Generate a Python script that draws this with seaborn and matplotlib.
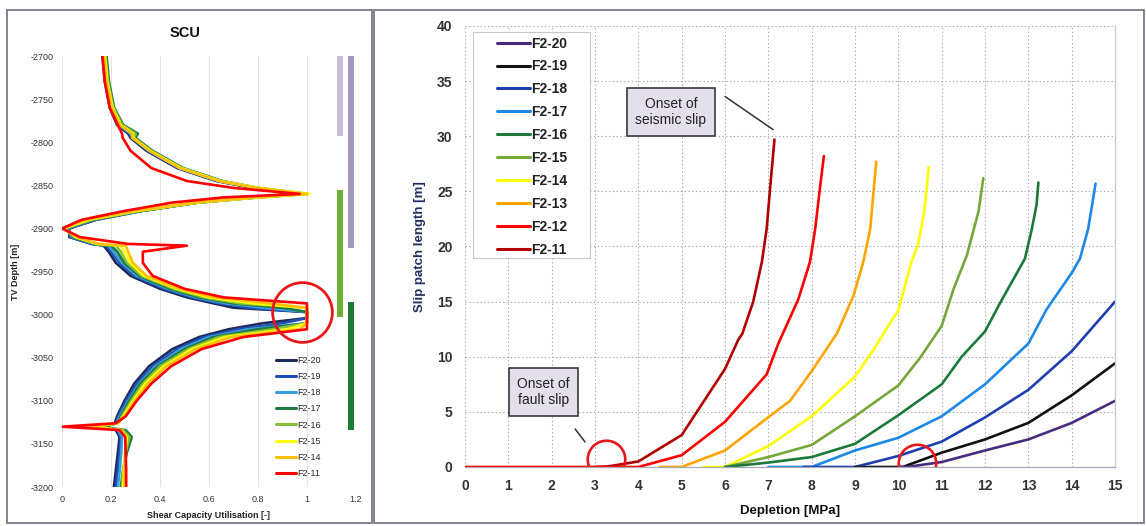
import matplotlib
matplotlib.use("Agg")
import matplotlib.pyplot as plt
import seaborn as sns
from matplotlib.lines import Line2D
from matplotlib.patches import Rectangle

sns.set_style("white")
plt.rcParams["font.family"] = ["Liberation Sans", "DejaVu Sans"]
plt.rcParams["axes.unicode_minus"] = False

# ---------------- Shear capacity utilisation profiles ----------------
DEPTH = [-2700, -2730, -2760, -2780, -2790, -2795, -2810, -2830, -2845, -2853,
         -2860, -2864, -2870, -2880, -2890, -2900, -2910, -2918, -2920, -2927,
         -2940, -2955, -2970, -2980, -2987, -2992, -2997, -3004, -3010, -3017,
         -3026, -3040, -3060, -3080, -3100, -3118, -3126, -3130, -3134, -3142,
         -3160, -3180, -3200]

SCU_F2_20 = [0.165, 0.175, 0.195, 0.225, 0.27, 0.28, 0.345, 0.47, 0.63, 0.78,
             0.98, 0.78, 0.55, 0.32, 0.14, 0.03, 0.03, 0.12, 0.17, 0.19,
             0.22, 0.28, 0.40, 0.51, 0.62, 0.70, 1.0, 1.0, 0.82, 0.68,
             0.56, 0.45, 0.355, 0.295, 0.255, 0.225, 0.215, 0.18, 0.22, 0.235,
             0.228, 0.22, 0.212]
SCU_F2_19 = [0.168, 0.178, 0.198, 0.23, 0.275, 0.285, 0.35, 0.475, 0.635, 0.785,
             0.985, 0.79, 0.55, 0.32, 0.135, 0.025, 0.035, 0.125, 0.18, 0.20,
             0.235, 0.295, 0.415, 0.53, 0.645, 0.76, 1.0, 1.0, 0.9, 0.72,
             0.58, 0.47, 0.37, 0.305, 0.262, 0.23, 0.22, 0.17, 0.225, 0.24,
             0.235, 0.228, 0.22]
SCU_F2_18 = [0.17, 0.18, 0.2, 0.235, 0.28, 0.29, 0.355, 0.48, 0.64, 0.79,
             0.99, 0.79, 0.55, 0.315, 0.13, 0.02, 0.04, 0.13, 0.19, 0.21,
             0.245, 0.305, 0.43, 0.545, 0.67, 0.82, 1.0, 1.0, 1.0, 0.76,
             0.60, 0.485, 0.38, 0.315, 0.27, 0.235, 0.225, 0.16, 0.23, 0.245,
             0.242, 0.236, 0.228]
SCU_F2_17 = [0.182, 0.192, 0.213, 0.25, 0.31, 0.30, 0.37, 0.495, 0.655, 0.80,
             1.0, 0.80, 0.56, 0.315, 0.125, 0.015, 0.045, 0.135, 0.20, 0.225,
             0.255, 0.315, 0.44, 0.56, 0.70, 0.90, 1.0, 1.0, 1.0, 0.80,
             0.62, 0.50, 0.39, 0.32, 0.275, 0.24, 0.228, 0.15, 0.26, 0.285,
             0.265, 0.25, 0.24]
SCU_F2_16 = [0.178, 0.188, 0.21, 0.245, 0.30, 0.295, 0.365, 0.49, 0.65, 0.80,
             1.0, 0.80, 0.555, 0.31, 0.12, 0.012, 0.05, 0.14, 0.22, 0.24,
             0.265, 0.325, 0.455, 0.58, 0.73, 1.0, 1.0, 1.0, 1.0, 0.86,
             0.64, 0.515, 0.40, 0.33, 0.282, 0.245, 0.23, 0.14, 0.25, 0.275,
             0.26, 0.25, 0.245]
SCU_F2_15 = [0.175, 0.185, 0.206, 0.24, 0.29, 0.29, 0.36, 0.485, 0.645, 0.80,
             1.01, 0.80, 0.55, 0.30, 0.11, 0.01, 0.055, 0.145, 0.24, 0.255,
             0.28, 0.335, 0.47, 0.60, 0.78, 1.0, 1.0, 1.0, 1.0, 0.92,
             0.665, 0.53, 0.415, 0.34, 0.29, 0.25, 0.23, 0.12, 0.24, 0.265,
             0.258, 0.253, 0.25]
SCU_F2_14 = [0.172, 0.182, 0.203, 0.237, 0.285, 0.287, 0.357, 0.48, 0.64, 0.795,
             1.0, 0.79, 0.54, 0.29, 0.10, 0.005, 0.06, 0.15, 0.26, 0.27,
             0.29, 0.345, 0.48, 0.62, 0.85, 1.0, 1.0, 1.0, 1.0, 0.97,
             0.69, 0.545, 0.425, 0.35, 0.297, 0.255, 0.225, 0.10, 0.24, 0.26,
             0.258, 0.256, 0.255]
SCU_F2_11 = [0.165, 0.175, 0.195, 0.228, 0.245, 0.248, 0.28, 0.365, 0.51, 0.70,
             0.97, 0.66, 0.45, 0.25, 0.08, 0.0, 0.073, 0.27, 0.51, 0.33,
             0.33, 0.37, 0.50, 0.66, 1.0, 1.0, 1.0, 1.0, 1.0, 1.0,
             0.74, 0.57, 0.445, 0.365, 0.305, 0.26, 0.22, 0.0, 0.235, 0.258,
             0.26, 0.262, 0.262]

SCU_NAMES = ["F2-20", "F2-19", "F2-18", "F2-17", "F2-16", "F2-15", "F2-14", "F2-11"]
SCU_SERIES = [SCU_F2_20, SCU_F2_19, SCU_F2_18, SCU_F2_17,
              SCU_F2_16, SCU_F2_15, SCU_F2_14, SCU_F2_11]
SCU_COLORS = ["#1B2A59", "#1F4FB8", "#3A9DE0", "#1E7B3E",
              "#86BF3C", "#FFFF00", "#FFC000", "#FF0000"]

# Formation intervals shown as bars beside the profiles
BAR_X = [1.135, 1.18, 1.135, 1.18]
BAR_TOP = [-2700, -2700, -2855, -2985]
BAR_BOTTOM = [-2793, -2923, -3003, -3134]
BAR_COLORS = ["#C9BFD8", "#A597BE", "#6CB02F", "#1E7B34"]

# ---------------- Slip patch growth with depletion ----------------
DEPL_F2_20 = [10.0, 10.2, 11.0, 12.0, 13.0, 14.0, 15.0]
SLIP_F2_20 = [0.0, 0.0, 0.45, 1.5, 2.5, 4.0, 6.0]
DEPL_F2_19 = [9.0, 10.1, 11.0, 12.0, 13.0, 14.0, 15.0]
SLIP_F2_19 = [0.0, 0.0, 1.3, 2.5, 4.0, 6.5, 9.4]
DEPL_F2_18 = [7.8, 9.0, 10.0, 11.0, 12.0, 13.0, 14.0, 15.0]
SLIP_F2_18 = [0.0, 0.0, 1.0, 2.3, 4.5, 7.0, 10.5, 15.0]
DEPL_F2_17 = [7.0, 8.0, 9.0, 10.0, 11.0, 12.0, 13.0, 13.42, 14.0, 14.19, 14.38, 14.55]
SLIP_F2_17 = [0.0, 0.0, 1.5, 2.65, 4.6, 7.5, 11.2, 14.3, 17.6, 18.9, 21.6, 25.7]
DEPL_F2_16 = [6.0, 7.0, 8.0, 9.0, 10.0, 11.0, 11.46, 12.0, 12.35, 12.65, 12.92, 13.08, 13.19, 13.23]
SLIP_F2_16 = [0.0, 0.4, 0.9, 2.1, 4.7, 7.5, 10.0, 12.3, 14.9, 17.0, 18.9, 21.6, 23.8, 25.8]
DEPL_F2_15 = [6.0, 7.0, 8.0, 9.0, 10.0, 10.5, 11.0, 11.27, 11.58, 11.85, 11.96]
SLIP_F2_15 = [0.0, 0.9, 2.0, 4.6, 7.4, 9.9, 12.8, 16.1, 19.2, 23.2, 26.2]
DEPL_F2_14 = [5.5, 6.0, 7.0, 8.0, 9.0, 9.42, 9.8, 10.0, 10.3, 10.45, 10.6, 10.7]
SLIP_F2_14 = [0.0, 0.0, 1.9, 4.6, 8.2, 10.6, 13.0, 14.2, 18.6, 20.1, 23.2, 27.2]
DEPL_F2_13 = [4.5, 5.0, 6.0, 6.96, 7.5, 8.0, 8.58, 8.96, 9.19, 9.35, 9.42, 9.49]
SLIP_F2_13 = [0.0, 0.0, 1.5, 4.4, 6.0, 8.7, 12.1, 15.5, 18.6, 21.6, 24.7, 27.7]
DEPL_F2_12 = [0.0, 4.0, 5.0, 6.0, 6.96, 7.23, 7.69, 7.96, 8.08, 8.19, 8.28]
SLIP_F2_12 = [0.0, 0.0, 1.07, 4.1, 8.4, 11.2, 15.2, 18.6, 21.6, 25.3, 28.2]
DEPL_F2_11 = [3.0, 3.3, 4.0, 5.0, 6.0, 6.3, 6.4, 6.65, 6.85, 6.96, 7.04, 7.14]
SLIP_F2_11 = [0.0, 0.05, 0.5, 2.9, 8.9, 11.5, 12.1, 15.0, 18.6, 21.6, 25.3, 29.7]

SLIP_NAMES = ["F2-20", "F2-19", "F2-18", "F2-17", "F2-16",
              "F2-15", "F2-14", "F2-13", "F2-12", "F2-11"]
SLIP_DEPL = [DEPL_F2_20, DEPL_F2_19, DEPL_F2_18, DEPL_F2_17, DEPL_F2_16,
             DEPL_F2_15, DEPL_F2_14, DEPL_F2_13, DEPL_F2_12, DEPL_F2_11]
SLIP_LEN = [SLIP_F2_20, SLIP_F2_19, SLIP_F2_18, SLIP_F2_17, SLIP_F2_16,
            SLIP_F2_15, SLIP_F2_14, SLIP_F2_13, SLIP_F2_12, SLIP_F2_11]
SLIP_COLORS = ["#4B2B7F", "#111111", "#1F3FB0", "#1E88E5", "#1B7A3A",
               "#74A83A", "#FFFF00", "#FFA500", "#FF0000", "#B00000"]

# Highlighted points of interest
ONSET_DEPL = [3.25, 10.42]
ONSET_SLIP = [0.7, 0.4]
SCU_MARK_X = [0.98]
SCU_MARK_DEPTH = [-2997]

fig = plt.figure(figsize=(11.46, 5.26), dpi=100)

# panel frames
for x0, w in [(0.0061, 0.3185), (0.3264, 0.6719)]:
    fig.patches.append(Rectangle((x0, 0.0057), w, 0.9753, transform=fig.transFigure,
                                 fill=False, edgecolor="#7A7A8C", lw=1.3))

# ---------------- left panel ----------------
ax1 = fig.add_axes([0.0541, 0.0741, 0.2565, 0.8194])
for name, vals, col in zip(SCU_NAMES, SCU_SERIES, SCU_COLORS):
    sns.lineplot(x=vals, y=DEPTH, sort=False, estimator=None, color=col,
                 lw=1.9, ax=ax1, legend=False)

for bx, bt, bb, bc in zip(BAR_X, BAR_TOP, BAR_BOTTOM, BAR_COLORS):
    ax1.vlines(bx, bb, bt, colors=bc, lw=4.3)

ax1.plot(SCU_MARK_X, SCU_MARK_DEPTH, "o", ms=43, mfc="none", mec="#E8161B", mew=2.0)

ax1.set_xlim(0, 1.2)
ax1.set_ylim(-3200, -2700)
ax1.set_xticks([0, 0.2, 0.4, 0.6, 0.8, 1.0, 1.2])
ax1.set_xticklabels(["0", "0.2", "0.4", "0.6", "0.8", "1", "1.2"])
ax1.set_yticks(list(range(-3200, -2699, 50)))
ax1.tick_params(labelsize=6.5, colors="#333333", length=0, pad=6)
ax1.grid(axis="x", color="#E3E3E3", lw=0.8)
ax1.grid(axis="y", visible=False)
for s in ax1.spines.values():
    s.set_visible(False)
ax1.set_xlabel("Shear Capacity Utilisation [-]", fontsize=6.5, fontweight="bold",
               color="#222222", labelpad=5)
ax1.set_ylabel("TV Depth [m]", fontsize=6.5, fontweight="bold", color="#222222",
               labelpad=8)
fig.text(185 / 1146, 1 - 33 / 526, "SCU", fontsize=10.5, fontweight="bold",
         ha="center", va="center", color="#111111")

h1 = [Line2D([0], [0], color=c, lw=2.2) for c in SCU_COLORS]
ax1.legend(h1, SCU_NAMES, loc="upper left", bbox_to_anchor=(0.715, 0.313),
           frameon=False, fontsize=6.5, handlelength=2.2, handletextpad=0.15,
           labelspacing=0.8, borderaxespad=0)

# ---------------- right panel ----------------
ax2 = fig.add_axes([0.4058, 0.1122, 0.5672, 0.8384])
for i in range(len(SLIP_NAMES) - 1, -1, -1):
    sns.lineplot(x=SLIP_DEPL[i], y=SLIP_LEN[i], sort=False, estimator=None,
                 color=SLIP_COLORS[i], lw=1.9, ax=ax2, legend=False)

ax2.plot(ONSET_DEPL, ONSET_SLIP, "o", ls="none", ms=27, mfc="none",
         mec="#E8161B", mew=1.9)

ax2.set_xlim(0, 15)
ax2.set_ylim(0, 40)
ax2.set_xticks(range(0, 16))
ax2.set_yticks(range(0, 41, 5))
ax2.grid(True, color="#A8A8A8", lw=0.8, ls=(0, (1.2, 2.2)))
ax2.tick_params(labelsize=10, colors="#333333", length=3, width=0.6, pad=6)
for lab in ax2.get_xticklabels() + ax2.get_yticklabels():
    lab.set_fontweight("bold")
for side in ["top", "left"]:
    ax2.spines[side].set_visible(False)
ax2.spines["bottom"].set_color("#A8A8B8")
ax2.spines["bottom"].set_linewidth(0.9)
ax2.spines["right"].set_color("#C8C8E0")
ax2.spines["right"].set_linewidth(1.0)
ax2.set_xlabel("Depletion [MPa]", fontsize=9.5, fontweight="bold", color="#111111",
               labelpad=8)
ax2.set_ylabel("Slip patch length [m]", fontsize=9.5, fontweight="bold",
               color="#1F2F5F", labelpad=8)

# legend frame drawn separately so the entries can sit inset from its left edge
ax2.add_patch(Rectangle((0.0123, 0.4739), 0.18, 0.5125, transform=ax2.transAxes,
                        fc="white", ec="#C8C8C8", lw=0.8, zorder=4))
h2 = [Line2D([0], [0], color=c, lw=2.2) for c in SLIP_COLORS]
leg = ax2.legend(h2, SLIP_NAMES, loc="upper left", bbox_to_anchor=(0.049, 0.976),
                 fontsize=10, handlelength=2.4, handletextpad=0.05,
                 labelspacing=0.64, borderaxespad=0, borderpad=0, frameon=False)
leg.set_zorder(5)
for t in leg.get_texts():
    t.set_fontweight("bold")
    t.set_color("#222222")

box = dict(boxstyle="square,pad=0.6", fc="#E4DFEC", ec="#3A3A3A", lw=1.2)
ax2.text(4.75, 32.2, "Onset of\nseismic slip", ha="center", va="center",
         fontsize=10, color="#222222", bbox=box, linespacing=1.25)
ax2.annotate("", xy=(7.11, 30.6), xytext=(6.0, 33.6),
             arrowprops=dict(arrowstyle="-", color="#333333", lw=1.1,
                             shrinkA=0, shrinkB=0))
ax2.text(1.81, 6.8, "Onset of\nfault slip", ha="center", va="center",
         fontsize=10, color="#222222", bbox=box, linespacing=1.25)
ax2.annotate("", xy=(2.77, 2.27), xytext=(2.54, 3.45),
             arrowprops=dict(arrowstyle="-", color="#333333", lw=1.1,
                             shrinkA=0, shrinkB=0))

fig.savefig("out.png", dpi=100)
